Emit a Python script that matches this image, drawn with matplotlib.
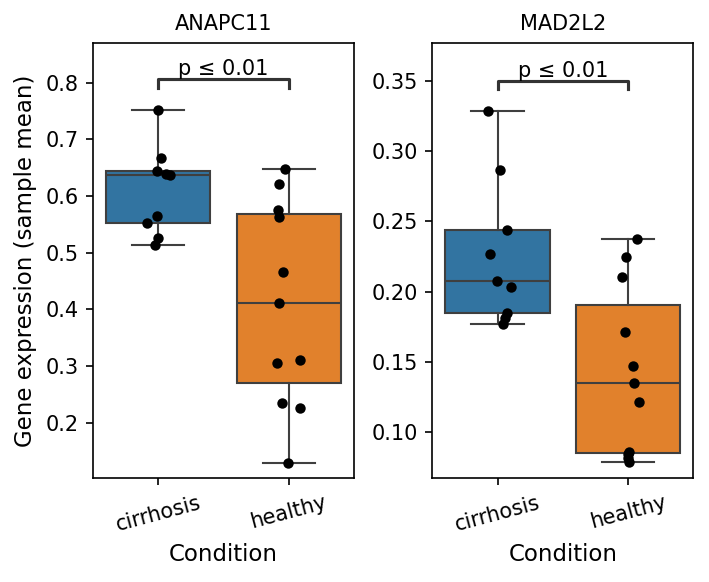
import numpy as np
import matplotlib
matplotlib.use("Agg")
import matplotlib.pyplot as plt

# values (sample means per donor)
conditions = ["cirrhosis", "healthy"]
genes = ["ANAPC11", "MAD2L2"]

anapc11_cirrhosis = [0.752, 0.667, 0.644, 0.639, 0.637, 0.564, 0.552, 0.526, 0.514]
anapc11_healthy = [0.647, 0.622, 0.575, 0.563, 0.466, 0.411, 0.306, 0.310, 0.235, 0.226, 0.128]
mad2l2_cirrhosis = [0.3286, 0.2866, 0.2439, 0.2266, 0.2078, 0.2030, 0.1845, 0.1810, 0.1767]
mad2l2_healthy = [0.2375, 0.2244, 0.2102, 0.1710, 0.1470, 0.1347, 0.1214, 0.0855, 0.0842, 0.0812, 0.0789]

# strip-plot jitter as seen in the picture
anapc11_cirrhosis_jit = [-0.005, 0.023, -0.013, 0.059, 0.089, -0.013, -0.084, 0.0, -0.023]
anapc11_healthy_jit = [-0.028, -0.076, -0.084, -0.074, -0.041, -0.076, -0.092, 0.089, -0.051, 0.089, -0.008]
mad2l2_cirrhosis_jit = [-0.074, 0.015, 0.069, -0.061, -0.005, 0.100, 0.072, 0.054, 0.038]
mad2l2_healthy_jit = [0.069, -0.015, -0.046, -0.023, 0.041, 0.049, 0.085, 0.008, 0.003, 0.0, 0.005]

p_label = "p \u2264 0.01"

box_colors = ["#3274a1", "#e1812c"]
line_col = "#3f3f3f"

panels = [
    (genes[0], [anapc11_cirrhosis, anapc11_healthy], [anapc11_cirrhosis_jit, anapc11_healthy_jit], (0.1019, 0.8706)),
    (genes[1], [mad2l2_cirrhosis, mad2l2_healthy], [mad2l2_cirrhosis_jit, mad2l2_healthy_jit], (0.067, 0.3773)),
]

fig, axes = plt.subplots(1, 2, figsize=(709 / 150, 582 / 150), dpi=150)
fig.subplots_adjust(left=0.1312, right=0.9779, bottom=0.1782, top=0.9266, wspace=0.3)

for ax, (gene, groups, jits, ylim) in zip(axes, panels):
    pos = np.arange(len(groups))
    bp = ax.boxplot(groups, positions=pos, widths=0.8, patch_artist=True,
                    showfliers=False, whis=1.5,
                    medianprops=dict(color=line_col, lw=1.0),
                    whiskerprops=dict(color=line_col, lw=1.0),
                    capprops=dict(color=line_col, lw=1.0),
                    boxprops=dict(edgecolor=line_col, lw=1.0))
    for patch, c in zip(bp["boxes"], box_colors):
        patch.set_facecolor(c)

    for i, (vals, jit) in enumerate(zip(groups, jits)):
        ax.scatter(i + np.array(jit), vals, s=25, color="black", lw=0, zorder=3)

    # significance bracket, placed above the data like statannot
    allv = np.concatenate(groups)
    rng = allv.max() - allv.min()
    y_top = allv.max() + 0.087 * rng
    y_low = y_top - 0.025 * rng
    ax.plot([0, 0, 1, 1], [y_low, y_top, y_top, y_low], color="0.2", lw=1.5)
    ax.annotate(p_label, xy=(0.5, y_top), xytext=(0, 0), textcoords="offset points",
                ha="center", va="bottom", fontsize=10)

    ax.set_xlim(-0.5, 1.5)
    ax.set_ylim(*ylim)
    ax.set_xticks(pos)
    ax.set_xticklabels(conditions, rotation=15, ha="center", fontsize=10)
    ax.tick_params(axis="y", labelsize=10)
    ax.set_title(gene, fontsize=10)
    ax.set_xlabel("Condition", fontsize=11)

axes[0].set_ylabel("Gene expression (sample mean)", fontsize=11)

fig.savefig("out.png", dpi=150)
